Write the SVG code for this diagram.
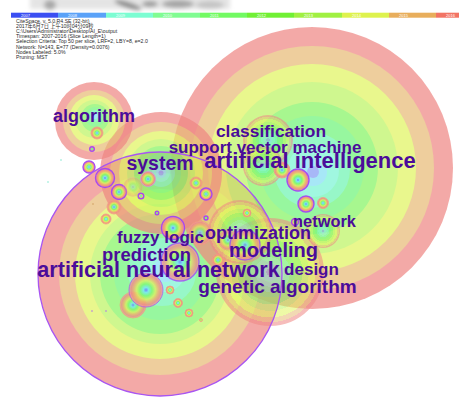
<svg xmlns="http://www.w3.org/2000/svg" width="459" height="397" viewBox="0 0 459 397">
<style>
.info{font-family:"Liberation Sans",Arial,"Noto Sans CJK SC",sans-serif;font-size:5.2px;fill:#2a2a2a}
.yr{font-family:"Liberation Sans",Arial,sans-serif;font-size:4px;fill:#ffffff}
.lb{font-family:"Liberation Sans",Arial,sans-serif;font-weight:bold;fill:#4b0c9a;text-anchor:middle}
.y16{fill:#ef8683}.y15{fill:#e7ba75}.y14{fill:#e0f55e}.y13{fill:#bcf560}.y12{fill:#83f560}
.y11{fill:#6cf577}.y10{fill:#6cf5b1}.y09{fill:#78f5d3}.y08{fill:#83def5}.y07{fill:#839af5}
.big{opacity:.7}
.md{fill:url(#rg);opacity:.55}
.sn{fill:url(#ng);stroke:#f09a78;stroke-width:.8;opacity:.92}
.sp{fill:url(#ng);stroke:#a545f2;stroke-width:1.4;opacity:.95}
.dot{fill:#7fe8d0}
</style>
<defs>
<filter id="bl" x="-20%" y="-50%" width="140%" height="200%"><feGaussianBlur stdDeviation="2.2"/></filter>
<radialGradient id="rg">
<stop offset="0" stop-color="#839af5"/><stop offset=".07" stop-color="#839af5"/>
<stop offset=".07" stop-color="#83def5"/><stop offset=".16" stop-color="#83def5"/>
<stop offset=".16" stop-color="#78f5d3"/><stop offset=".27" stop-color="#78f5d3"/>
<stop offset=".27" stop-color="#6cf5b1"/><stop offset=".37" stop-color="#6cf5b1"/>
<stop offset=".37" stop-color="#6cf577"/><stop offset=".47" stop-color="#6cf577"/>
<stop offset=".47" stop-color="#83f560"/><stop offset=".6" stop-color="#83f560"/>
<stop offset=".6" stop-color="#bcf560"/><stop offset=".72" stop-color="#bcf560"/>
<stop offset=".72" stop-color="#e0f55e"/><stop offset=".84" stop-color="#e0f55e"/>
<stop offset=".84" stop-color="#e7ba75"/><stop offset=".93" stop-color="#e7ba75"/>
<stop offset=".93" stop-color="#ef8683"/><stop offset="1" stop-color="#ef8683"/>
</radialGradient>
<radialGradient id="ng">
<stop offset="0" stop-color="#6a7cff"/><stop offset=".15" stop-color="#78e8f0"/>
<stop offset=".35" stop-color="#80f870"/><stop offset=".55" stop-color="#d8f060"/>
<stop offset=".72" stop-color="#f0b070"/><stop offset=".88" stop-color="#f08a8a"/>
<stop offset="1" stop-color="#f4a4a4"/>
</radialGradient>
</defs>

<g id="header">
<g filter="url(#bl)">
<rect x="30" y="-4" width="200" height="13" fill="#e4e4e4"/>
<ellipse cx="50" cy="5" rx="6" ry="5" fill="#a8a8a8"/>
<ellipse cx="128" cy="5" rx="14" ry="3" fill="#8a8a8a" transform="rotate(18 128 5)"/>
<ellipse cx="150" cy="4" rx="8" ry="3" fill="#9a9a9a"/>
<ellipse cx="178" cy="4" rx="16" ry="4" fill="#a4a4a4"/>
<ellipse cx="210" cy="5" rx="14" ry="4" fill="#c4c4c4"/>
</g>
</g>

<g id="legend">
<rect x="11" y="12.7" width="47" height="5" fill="#3b4ff2"/>
<rect x="58" y="12.7" width="48" height="5" fill="#5aa2f8"/>
<rect x="106" y="12.7" width="47" height="5" fill="#7cfdd2"/>
<rect x="153" y="12.7" width="47" height="5" fill="#80fc92"/>
<rect x="200" y="12.7" width="47" height="5" fill="#72fa62"/>
<rect x="247" y="12.7" width="47" height="5" fill="#70f034"/>
<rect x="294" y="12.7" width="48" height="5" fill="#a0f042"/>
<rect x="342" y="12.7" width="47" height="5" fill="#def24e"/>
<rect x="389" y="12.7" width="47" height="5" fill="#e8ae5c"/>
<rect x="436" y="12.7" width="23" height="5" fill="#f27464"/>
<text class="yr" x="21" y="16.8">2007</text>
<text class="yr" x="68" y="16.8">2008</text>
<text class="yr" x="116" y="16.8">2009</text>
<text class="yr" x="163" y="16.8">2010</text>
<text class="yr" x="210" y="16.8">2011</text>
<text class="yr" x="257" y="16.8">2012</text>
<text class="yr" x="304" y="16.8">2013</text>
<text class="yr" x="352" y="16.8">2014</text>
<text class="yr" x="399" y="16.8">2015</text>
<text class="yr" x="446" y="16.8">2016</text>
</g>

<g id="info">
<text class="info" x="16" y="22.5">CiteSpace, v. 5.0.R4.SE (32-bit)</text>
<text class="info" x="16" y="27.7">2017年6月7日 上午10时04分09秒</text>
<text class="info" x="16" y="32.9">C:\Users\Administrator\Desktop\AI_E\output</text>
<text class="info" x="16" y="38.1">Timespan: 2007-2016 (Slice Length=1)</text>
<text class="info" x="16" y="43.3">Selection Criteria: Top 50 per slice, LRF=2, LBY=8, e=2.0</text>
<text class="info" x="16" y="48.5">Network: N=143, E=77 (Density=0.0076)</text>
<text class="info" x="16" y="53.7">Nodes Labeled: 5.0%</text>
<text class="info" x="16" y="58.9">Pruning: MST</text>
</g>

<g id="connectors"></g>

<g id="node-ann" class="big">
<circle class="y16" cx="160" cy="274" r="122"/>
<circle class="y15" cx="160" cy="274" r="101"/>
<circle class="y14" cx="160" cy="274" r="85"/>
<circle class="y13" cx="160" cy="274" r="70"/>
<circle class="y12" cx="160" cy="274" r="60"/>
<circle class="y11" cx="160" cy="274" r="46"/>
<circle class="y10" cx="162" cy="272" r="34"/>
<circle class="y09" cx="164" cy="270" r="22"/>
<circle class="y08" cx="165" cy="270" r="12"/>
<circle class="y07" cx="165" cy="270" r="5"/>
</g>

<g id="node-ai" class="big">
<circle class="y16" cx="312" cy="168" r="141"/>
<circle class="y15" cx="312" cy="168" r="122"/>
<circle class="y14" cx="312" cy="168" r="104"/>
<circle class="y13" cx="312" cy="168" r="86"/>
<circle class="y12" cx="312" cy="168" r="66"/>
<circle class="y11" cx="312" cy="168" r="52"/>
<circle class="y10" cx="312" cy="170" r="38"/>
<circle class="y09" cx="313" cy="171" r="26"/>
<circle class="y08" cx="313" cy="172" r="14"/>
<circle class="y07" cx="313" cy="172" r="6"/>
</g>

<g id="node-system" class="big">
<circle class="y16" cx="161" cy="173" r="61"/>
<circle class="y15" cx="161" cy="173" r="51"/>
<circle class="y14" cx="161" cy="173" r="42"/>
<circle class="y13" cx="161" cy="173" r="34"/>
<circle class="y12" cx="161" cy="173" r="27"/>
<circle class="y11" cx="161" cy="173" r="20"/>
<circle class="y10" cx="161" cy="173" r="14"/>
<circle class="y09" cx="161" cy="173" r="9"/>
<circle class="y08" cx="161" cy="173" r="5"/>
<circle class="y07" cx="161" cy="173" r="2.5"/>
</g>

<g id="node-algorithm" class="big">
<circle class="y16" cx="94" cy="121" r="39"/>
<circle class="y15" cx="94" cy="121" r="31"/>
<circle class="y14" cx="94" cy="120" r="25"/>
<circle class="y13" cx="94" cy="119" r="19"/>
<circle class="y12" cx="95" cy="118" r="14"/>
<circle class="y11" cx="95" cy="117" r="10"/>
<circle class="y10" cx="95" cy="116" r="6"/>
<circle class="y08" cx="95" cy="116" r="3"/>
</g>

<g id="node-genetic-algorithm"><circle class="md" cx="270" cy="272" r="54"/></g>
<g id="node-optimization"><circle class="md" cx="240" cy="232" r="32"/></g>
<g id="node-classification"><circle class="md" cx="268" cy="140" r="25"/></g>
<g id="node-support-vector-machine"><circle class="md" cx="263" cy="166" r="20"/></g>
<g id="node-network"><circle class="md" cx="323" cy="231" r="17"/></g>

<g id="small-nodes">
<circle class="sn" cx="97" cy="133" r="6"/>
<circle class="sp" cx="92" cy="149" r="2.3"/>
<circle class="sp" cx="89" cy="167" r="6"/>
<circle class="sp" cx="105" cy="178" r="9.5"/>
<circle class="sp" cx="119" cy="192" r="7.5"/>
<circle class="sn" cx="114" cy="207" r="7"/>
<circle class="sn" cx="106" cy="219" r="5"/>
<circle class="sn" cx="148" cy="179" r="7.5" style="stroke:#d58ad8"/>
<circle class="sn" cx="133" cy="187" r="10" style="opacity:.35;stroke:none"/>
<circle class="sp" cx="141" cy="196" r="2.8"/>
<circle class="sp" cx="157" cy="213" r="1.8"/>
<circle class="sn" cx="196" cy="183" r="6"/>
<circle class="sp" cx="206" cy="194" r="6"/>
<circle class="sp" cx="206" cy="218" r="2"/>
<circle class="sn" cx="200" cy="233" r="12" style="opacity:.7"/>
<circle class="sp" cx="173" cy="228" r="11.5"/>
<circle class="sn" cx="282" cy="170" r="8"/>
<circle class="sp" cx="298" cy="180" r="11"/>
<circle class="sp" cx="306" cy="204" r="8"/>
<circle class="sn" cx="323" cy="203" r="5.5"/>
<circle class="sp" cx="295" cy="222" r="3.5"/>
<circle class="sn" cx="247" cy="213" r="4"/>
<circle class="sn" cx="228" cy="240" r="10" style="opacity:.75"/>
<circle class="sp" cx="245" cy="245" r="15" style="opacity:.8"/>
<circle class="sn" cx="218" cy="260" r="6"/>
<circle class="sp" cx="180" cy="262" r="19" style="opacity:.8"/>
<circle class="sn" cx="133" cy="305" r="13" style="opacity:.8"/>
<circle class="sp" cx="146" cy="290" r="17" style="stroke-width:.8;opacity:.85"/>
<circle class="sn" cx="170" cy="290" r="4"/>
<circle class="sn" cx="178" cy="303" r="4.5"/>
<circle class="sn" cx="189" cy="313" r="4"/>
<circle class="sn" cx="201" cy="320" r="1.5"/>
<circle class="dot" cx="48" cy="182" r=".8"/>
<circle class="dot" cx="61" cy="160" r=".8"/>
<circle class="dot" cx="92" cy="311" r=".8" style="fill:#b070f0"/>
<circle class="dot" cx="106" cy="311" r=".8" style="fill:#b070f0"/>
<circle class="dot" cx="93" cy="204" r=".8" style="fill:#d0a060"/>
</g>

<g id="ann-outline"><circle cx="160" cy="274" r="122" fill="none" stroke="#a855f2" stroke-width="1.3"/></g>

<g id="labels">
<text id="label-algorithm" class="lb" x="94" y="122" font-size="18">algorithm</text>
<text id="label-system" class="lb" x="160" y="170" font-size="19.5">system</text>
<text id="label-classification" class="lb" x="271" y="137" font-size="17.4">classification</text>
<text id="label-svm" class="lb" x="265" y="152.5" font-size="17">support vector machine</text>
<text id="label-ai" class="lb" x="310" y="168" font-size="22">artificial intelligence</text>
<text id="label-network" class="lb" x="324.5" y="227" font-size="16.4">network</text>
<text id="label-fuzzy" class="lb" x="160.5" y="243" font-size="17">fuzzy logic</text>
<text id="label-optimization" class="lb" x="258" y="239" font-size="18">optimization</text>
<text id="label-prediction" class="lb" x="146.5" y="261" font-size="18.4">prediction</text>
<text id="label-modeling" class="lb" x="273.5" y="257" font-size="20">modeling</text>
<text id="label-ann" class="lb" x="158.5" y="277" font-size="21.6">artificial neural network</text>
<text id="label-design" class="lb" x="311.5" y="275" font-size="17">design</text>
<text id="label-ga" class="lb" x="277.5" y="293" font-size="19">genetic algorithm</text>
</g>
</svg>
